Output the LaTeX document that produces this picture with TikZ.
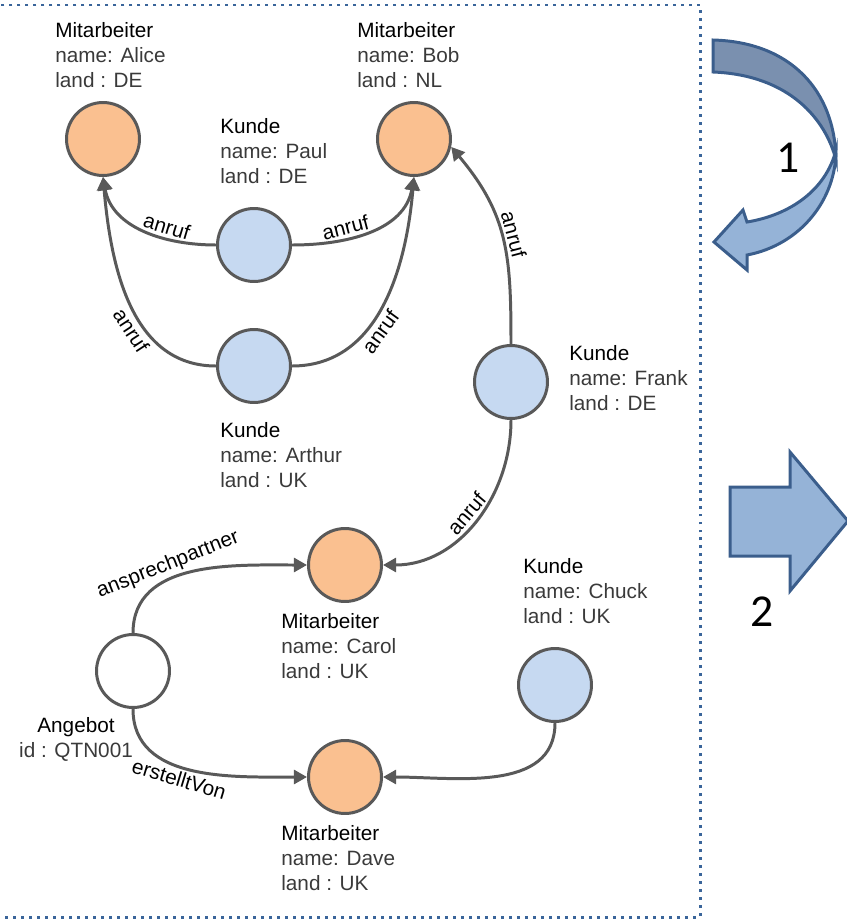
\documentclass[tikz,border=0pt]{standalone}
\usepackage{fontspec}
\setmainfont{Liberation Sans}
\newfontfamily\zahlfont{Carlito}
\usetikzlibrary{arrows.meta, positioning}

%%% Farben
\definecolor{kante}{HTML}{595959}
\definecolor{orangeknoten}{HTML}{FAC090}
\definecolor{blauknoten}{HTML}{C6D9F1}
\definecolor{rahmenblau}{HTML}{3A659A}
\definecolor{pfeilrand}{HTML}{3B5E8C}
\definecolor{pfeilhell}{HTML}{95B3D7}
\definecolor{pfeildunkel}{HTML}{7A90AF}
\definecolor{infograu}{HTML}{3A3A3A}

\newcommand{\knoteninfo}[3]{#1\\\textcolor{infograu}{#2}\\\textcolor{infograu}{#3}}

\begin{document}
\begin{tikzpicture}[x=0.02cm, y=-0.02cm,
    knoten/.style={circle, draw=kante, line width=1.7pt, minimum size=1.46cm, inner sep=0pt},
    mitarbeiter/.style={knoten, fill=orangeknoten},
    kunde/.style={knoten, fill=blauknoten},
    angebot/.style={knoten, fill=white},
    info/.style={anchor=base west, align=left, inner sep=0pt, font=\fontsize{11.8}{14.2}\selectfont},
    rel/.style={line width=1.7pt, draw=kante, -{Triangle[length=7.5pt, width=8pt]}},
    rellabel/.style={font=\fontsize{11.8}{13}\selectfont, sloped, inner sep=1.5pt},
    rahmen/.style={draw=rahmenblau, line width=1.7pt, dash pattern=on 1.7pt off 2.85pt},
    pfeilform/.style={draw=pfeilrand, line width=1.7pt, line join=miter},
    zahl/.style={font=\zahlfont\fontsize{26}{30}\selectfont, inner sep=0pt}
]

%%% Definition der BoundingBox
\useasboundingbox (0,0) rectangle (846,920);

%%% Rahmen
\draw[rahmen] (-10,5) rectangle (700,917);

%%% Knoten
\node[mitarbeiter] (alice) at (103,139) {};
\node[mitarbeiter] (bob) at (414,139) {};
\node[kunde] (paul) at (254,245) {};
\node[kunde] (arthur) at (254,366) {};
\node[kunde] (frank) at (511,382) {};
\node[mitarbeiter] (carol) at (345,565) {};
\node[angebot] (qtn) at (133,671) {};
\node[mitarbeiter] (dave) at (345,777) {};
\node[kunde] (chuck) at (555,685) {};

%%% Beschriftung der Knoten (Grundlinie der letzten Zeile)
\node[info] (alicetext) at (55,87) {\knoteninfo{Mitarbeiter}{name: Alice}{land : DE}};
\node[info] (bobtext) at (357,87) {\knoteninfo{Mitarbeiter}{name: Bob}{land : NL}};
\node[info] (paultext) at (220,183) {\knoteninfo{Kunde}{name: Paul}{land : DE}};
\node[info] (arthurtext) at (220,487) {\knoteninfo{Kunde}{name: Arthur}{land : UK}};
\node[info] (franktext) at (569,410) {\knoteninfo{Kunde}{name: Frank}{land : DE}};
\node[info] (chucktext) at (523,623) {\knoteninfo{Kunde}{name: Chuck}{land : UK}};
\node[info] (caroltext) at (281,678) {\knoteninfo{Mitarbeiter}{name: Carol}{land : UK}};
\node[info] (davetext) at (281,890) {\knoteninfo{Mitarbeiter}{name: Dave}{land : UK}};
\node[info, anchor=base, align=center] (qtntext) at (76,757) {Angebot\\\textcolor{infograu}{id : QTN001}};

%%% Beziehungen
\draw[rel] (paul.west) to[out=180, in=-80] node[rellabel, above, pos=0.35] {anruf} (alice.south);
\draw[rel] (paul.east) to[out=0, in=-100] node[rellabel, above, pos=0.35] {anruf} (bob.south);
\draw[rel] (arthur.west) to[out=180, in=-85] node[rellabel, below, pos=0.4] {anruf} (alice.south);
\draw[rel] (arthur.east) to[out=0, in=-95] node[rellabel, below, pos=0.4] {anruf} (bob.south);
\draw[rel] (frank.north) to[out=90, in=-50, looseness=1.1] node[rellabel, above, pos=0.5] {anruf} (bob.-12);
\draw[rel] (frank.south) to[out=-90, in=0] node[rellabel, above, pos=0.5] {anruf} (carol.east);
\draw[rel] (qtn.north) to[out=90, in=180] node[rellabel, above, pos=0.4] {ansprechpartner} (carol.west);
\draw[rel] (qtn.south) to[out=-90, in=180] node[rellabel, below, pos=0.45] {erstelltVon} (dave.west);
\draw[rel] (chuck.south) to[out=-90, in=0] (dave.east);

%%% Pfeil 1 (Rueckschritt)
\draw[pfeilform, fill=pfeildunkel] (713,40) .. controls (790,42) and (835,90) .. (836,160)
    .. controls (826,120) and (790,75) .. (713,72) -- cycle;
\draw[pfeilform, fill=pfeilhell] (836,150) .. controls (836,200) and (800,245) .. (747,255)
    -- (747,270) -- (714,242) -- (743,210) -- (747,222)
    .. controls (790,215) and (826,190) .. (836,150) -- cycle;
\node[zahl] (eins) at (788,158) {1};

%%% Pfeil 2 (weiter)
\draw[pfeilform, fill=pfeilhell] (730,487) -- (790,487) -- (790,452) -- (848,521)
    -- (790,591) -- (790,556) -- (730,556) -- cycle;
\node[zahl] (zwei) at (762,612) {2};

\end{tikzpicture}
\end{document}
